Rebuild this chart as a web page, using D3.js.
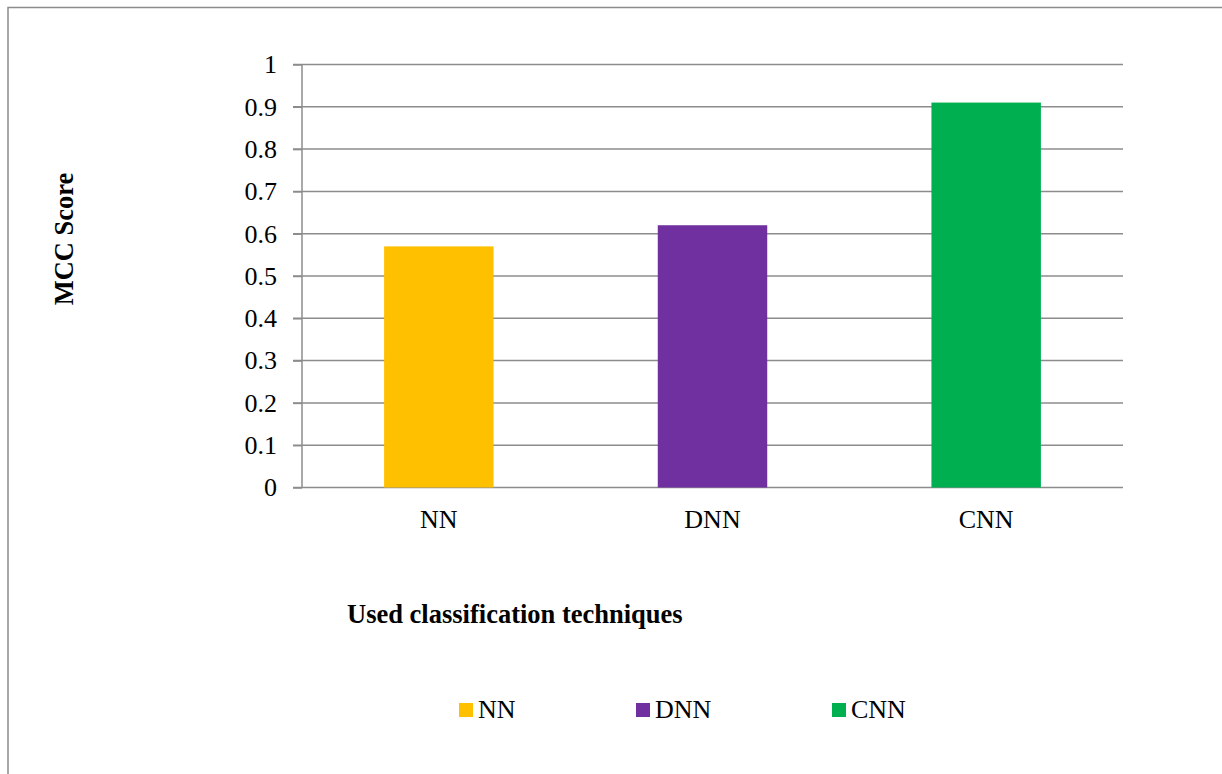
<!DOCTYPE html>
<html>
<head>
<meta charset="utf-8">
<script src="https://cdn.jsdelivr.net/npm/d3@7"></script>
<style>
  body { margin: 0; background: #fff; }
  svg text { font-family: "Liberation Serif", "Times New Roman", serif; fill: #000; }
</style>
</head>
<body>
<div id="chart"></div>
<script>
var categories = ["NN", "DNN", "CNN"];
var scores = [0.57, 0.62, 0.91];
var colors = ["#FFC000", "#7030A0", "#00B050"];
var yTicks = [0, 0.1, 0.2, 0.3, 0.4, 0.5, 0.6, 0.7, 0.8, 0.9, 1];

var width = 1222, height = 774;
var plot = {left: 302, right: 1123, top: 64.5, bottom: 487.5};

var svg = d3.select("#chart").append("svg")
  .attr("width", width)
  .attr("height", height);

// outer frame
svg.append("rect")
  .attr("x", 8).attr("y", 7.5)
  .attr("width", 1400).attr("height", 900)
  .attr("fill", "none")
  .attr("stroke", "#8c8c8c")
  .attr("stroke-width", 1.5);

var x = d3.scaleBand()
  .domain(categories)
  .range([plot.left, plot.right])
  .paddingInner(0.6)
  .paddingOuter(0.3);

var y = d3.scaleLinear()
  .domain([0, 1])
  .range([plot.bottom, plot.top]);

// gridlines
svg.append("g")
  .selectAll("line")
  .data(yTicks)
  .enter().append("line")
  .attr("x1", plot.left - 9)
  .attr("x2", plot.right)
  .attr("y1", function(d){ return y(d); })
  .attr("y2", function(d){ return y(d); })
  .attr("stroke", "#8c8c8c")
  .attr("stroke-width", 1.5);

// y axis
var yAxis = svg.append("g")
  .attr("transform", "translate(" + plot.left + ",0)")
  .call(d3.axisLeft(y).tickValues(yTicks).tickSize(9).tickPadding(16)
    .tickFormat(function(d){ return d3.format("")(+d.toFixed(1)); }));
yAxis.selectAll("line, path").attr("stroke", "#8c8c8c").attr("stroke-width", 1.5);
yAxis.select(".domain").attr("d", "M0," + plot.top + "V" + plot.bottom);
yAxis.selectAll("text")
  .style("font-size", "26px")
  .style("font-family", "'Liberation Serif', serif")
  .attr("fill", "#000");

// bars
svg.append("g")
  .selectAll("rect")
  .data(scores)
  .enter().append("rect")
  .attr("x", function(d, i){ return x(categories[i]); })
  .attr("y", function(d){ return y(d); })
  .attr("width", x.bandwidth())
  .attr("height", function(d){ return y(0) - y(d); })
  .attr("fill", function(d, i){ return colors[i]; });

// x axis labels
var xAxis = svg.append("g")
  .attr("transform", "translate(0," + plot.bottom + ")")
  .call(d3.axisBottom(x).tickSize(0).tickPadding(22));
xAxis.select(".domain").remove();
xAxis.selectAll("text")
  .style("font-size", "26px")
  .style("font-family", "'Liberation Serif', serif")
  .attr("fill", "#000");

// axis titles
svg.append("text")
  .attr("x", 347).attr("y", 623)
  .style("font-size", "26.5px")
  .style("font-weight", "bold")
  .text("Used classification techniques");

svg.append("text")
  .attr("transform", "translate(73,239) rotate(-90)")
  .attr("text-anchor", "middle")
  .style("font-size", "26.5px")
  .style("font-weight", "bold")
  .text("MCC Score");

// legend
var legendX = [459, 636, 832];
var legend = svg.append("g").selectAll("g")
  .data(categories)
  .enter().append("g")
  .attr("transform", function(d, i){ return "translate(" + legendX[i] + ",703)"; });
legend.append("rect")
  .attr("width", 14).attr("height", 14)
  .attr("fill", function(d, i){ return colors[i]; });
legend.append("text")
  .attr("x", 19).attr("y", 15)
  .style("font-size", "26px")
  .text(function(d){ return d; });
</script>
</body>
</html>
